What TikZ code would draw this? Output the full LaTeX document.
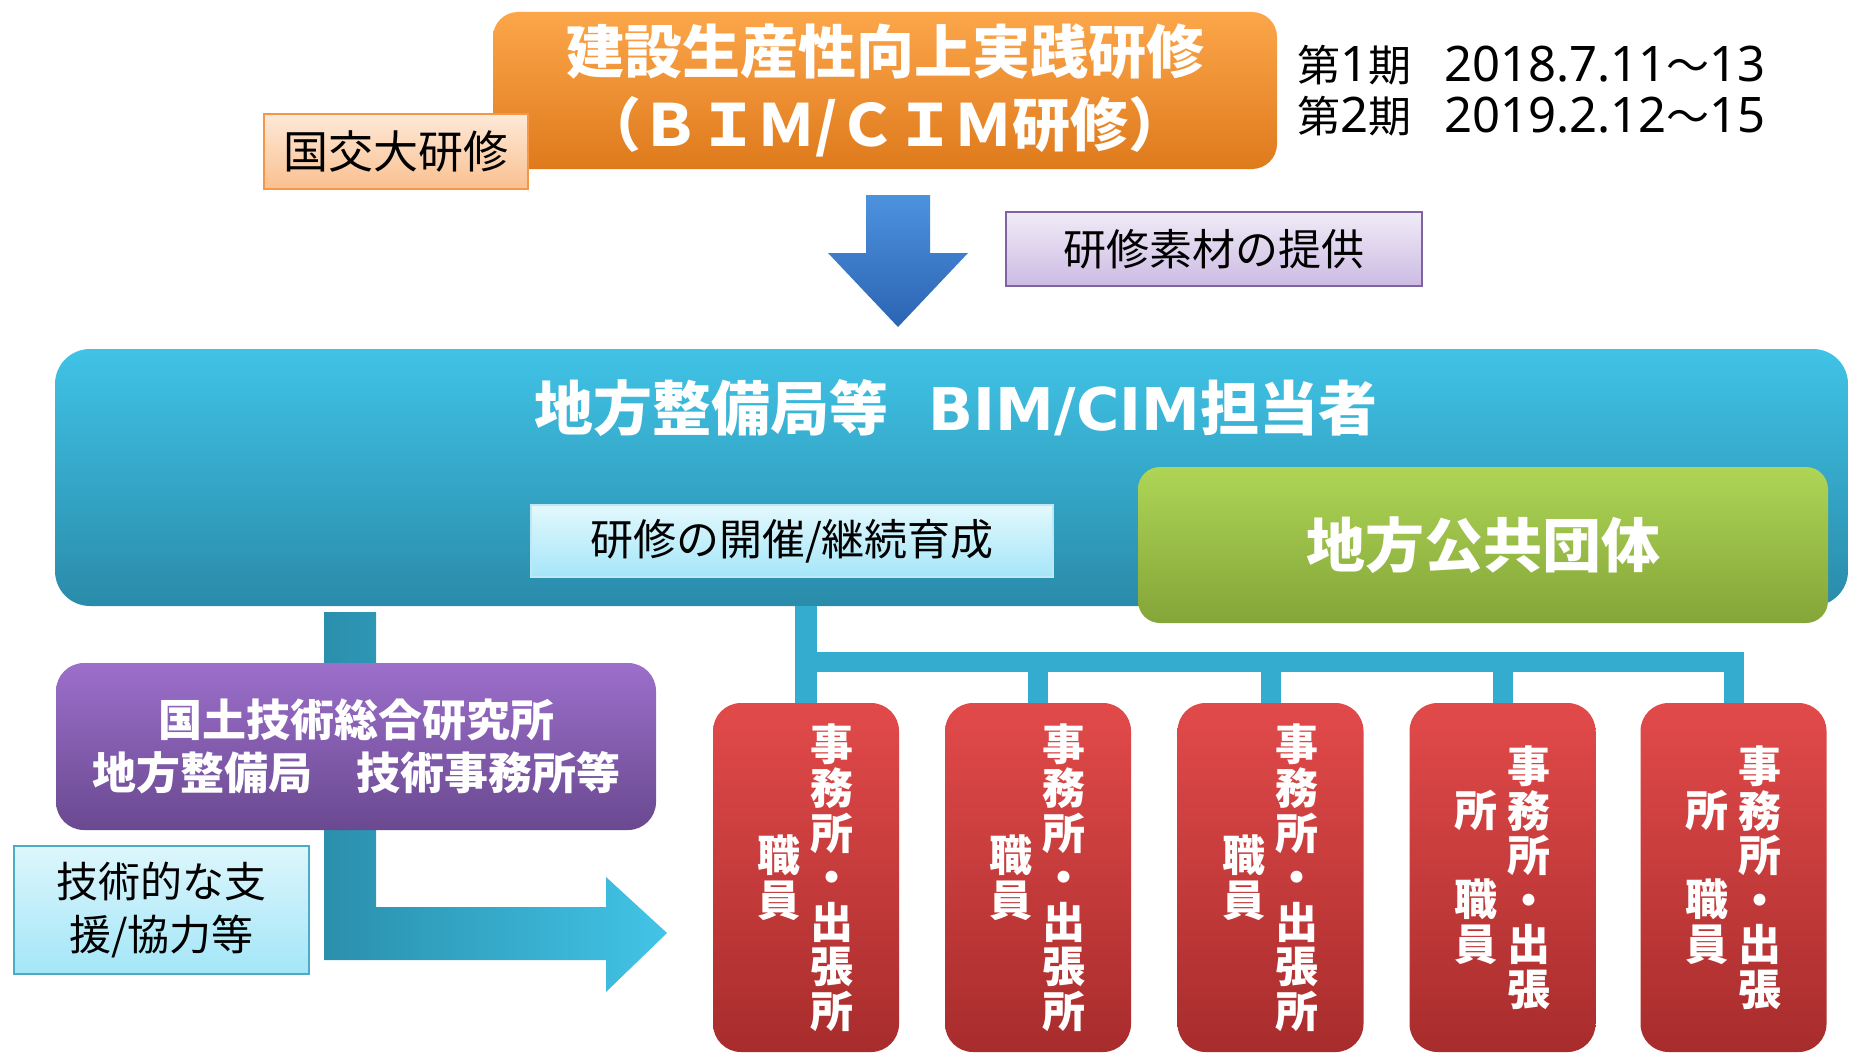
\documentclass[tikz,border=0pt]{standalone}
\usepackage{fontspec}
\setmainfont{Noto Sans}
\newfontfamily\cjk{Noto Sans CJK JP}
\newfontfamily\dvs{DejaVu Sans}
\newcommand\jtxt[1]{{\cjk\fontsize{43}{50}\selectfont #1}}
\definecolor{oraT}{HTML}{FCA64A}
\definecolor{oraB}{HTML}{DE7A1C}
\definecolor{kokT}{HTML}{FDE9D9}
\definecolor{kokB}{HTML}{FAC08F}
\definecolor{kokD}{HTML}{F79646}
\definecolor{bluT}{HTML}{4D92DE}
\definecolor{bluB}{HTML}{2B64B3}
\definecolor{sozT}{HTML}{F0EBF7}
\definecolor{sozB}{HTML}{CCBBE3}
\definecolor{sozD}{HTML}{8064A2}
\definecolor{tealT}{HTML}{40C3E6}
\definecolor{tealB}{HTML}{2A8BAA}
\definecolor{kaiT}{HTML}{E3F8FD}
\definecolor{kaiB}{HTML}{A5E6F8}
\definecolor{kaiD}{HTML}{BEE9F4}
\definecolor{grnT}{HTML}{AED556}
\definecolor{grnB}{HTML}{84A538}
\definecolor{purT}{HTML}{9C6FCB}
\definecolor{purB}{HTML}{6A4990}
\definecolor{redT}{HTML}{E24A4A}
\definecolor{redB}{HTML}{A82C2C}
\definecolor{gijT}{HTML}{DDF6FC}
\definecolor{gijB}{HTML}{A3E6F8}
\definecolor{gijD}{HTML}{4BACC6}
\definecolor{connC}{HTML}{34ACD0}
\definecolor{LarL}{HTML}{2A8FAD}
\definecolor{LarR}{HTML}{42C4E6}
\begin{document}
\begin{tikzpicture}[x=1pt,y=-1pt,
  every node/.style={inner sep=0pt, outer sep=0pt},
  plainbox/.style={rectangle, align=center},
  conn/.style={draw=connC, line cap=butt},
  redbox/.style={rectangle, rounded corners=28pt, top color=redT, bottom color=redB, minimum width=186pt, minimum height=349pt},
  vtxt/.style={align=center, text=white, font=\cjk\bfseries\fontsize{43}{44.5}\selectfont},
]
\useasboundingbox (0,0) rectangle (1849,1054);

% large teal box
\node[plainbox, rounded corners=35pt, top color=tealT, bottom color=tealB,
  minimum width=1793pt, minimum height=257pt] (big) at (951.5,477.5) {};
\node[text=white, font=\cjk\bfseries\fontsize{59}{70}\selectfont] (bigtitle) at (956,408)
  {地方整備局等\hspace{40pt}{\dvs\bfseries BIM/CIM}担当者};

% L-shaped arrow
\coordinate (Ltip) at (667,933);
\path[left color=LarL, right color=LarR]
  (324,612) -- (376,612) -- (376,907) -- (606,907) -- (606,877) -- (Ltip)
  -- (606,992) -- (606,960) -- (324,960) -- cycle;

% red boxes
\foreach \i/\cx in {1/806,2/1038,3/1270.5,4/1502.5,5/1733.5}
  \node[redbox] (red\i) at (\cx,877.5) {};
\foreach \i in {1,2,3}{
  \node[vtxt] (rr\i) at ([xshift=26pt]red\i.center) {事\\務\\所\\・\\出\\張\\所};
  \node[vtxt] (rl\i) at ([xshift=-27pt]red\i.center) {職\\員};
}
\foreach \i in {4,5}{
  \node[vtxt] (rr\i) at ([xshift=26pt]red\i.center) {事\\務\\所\\・\\出\\張};
  \node[vtxt] (rl\i) at ([xshift=-27pt]red\i.center) {所\\\phantom{所}\\職\\員};
}

% connectors
\coordinate (barY) at (0,662);
\draw[conn, line width=22pt] (big.south -| red1.north) -- (red1.north);
\draw[conn, line width=20pt] ([xshift=-11pt]red1.north |- barY) -- ([xshift=10pt]red5.north |- barY);
\foreach \i in {2,3,4,5}
  \draw[conn, line width=20pt] (red\i.north |- barY) -- (red\i.north);

% green box
\node[plainbox, rounded corners=22pt, top color=grnT, bottom color=grnB,
  minimum width=690pt, minimum height=156pt, text=white,
  font=\cjk\bfseries\fontsize{59}{70}\selectfont] (green) at (1483,545) {地方公共団体};

% training box
\node[plainbox, draw=kaiD, line width=1.5pt, top color=kaiT, bottom color=kaiB,
  minimum width=522pt, minimum height=72pt,
  font=\cjk\fontsize{43}{50}\selectfont] (kaisai) at (792,541) {研修の開催/継続育成};

% purple box
\node[plainbox, rounded corners=28pt, top color=purT, bottom color=purB,
  minimum width=600pt, minimum height=167pt, text=white,
  font=\cjk\bfseries\fontsize{44}{53}\selectfont] (purple) at (356,746.5)
  {国土技術総合研究所\\地方整備局　技術事務所等};

% support box
\node[plainbox, draw=gijD, line width=1.5pt, top color=gijT, bottom color=gijB,
  minimum width=295pt, minimum height=128pt,
  font=\cjk\fontsize{42}{53}\selectfont] (gijutsu) at (161.5,910) {技術的な支\\援/協力等};

% orange title
\node[plainbox, rounded corners=25pt, top color=oraT, bottom color=oraB,
  minimum width=784pt, minimum height=157pt, text=white,
  font=\cjk\bfseries\fontsize{58}{73}\selectfont] (orange) at (885,90.5)
  {建設生産性向上実践研修\\（ＢＩＭ/ＣＩＭ研修）};

% kokko box
\node[plainbox, draw=kokD, line width=2pt, top color=kokT, bottom color=kokB,
  minimum width=264pt, minimum height=75pt,
  font=\cjk\fontsize{45}{50}\selectfont] (kokko) at (396,151.5) {国交大研修};

% dates
\node[anchor=base west, font=\fontsize{49}{50}\selectfont] (date1) at (1297,82)
  {\jtxt{第}1\jtxt{期}\hspace{33pt}2018.7.11\jtxt{～}13};
\node[anchor=base west, font=\fontsize{49}{50}\selectfont] (date2) at (1297,132)
  {\jtxt{第}2\jtxt{期}\hspace{33pt}2019.2.12\jtxt{～}15};

% blue down arrow
\coordinate (Btip) at (898,327);
\path[top color=bluT, bottom color=bluB]
  (866,195) -- (930,195) -- (930,253) -- (968,253) -- (Btip) -- (828,253) -- (866,253) -- cycle;

% material box
\node[plainbox, draw=sozD, line width=2pt, top color=sozT, bottom color=sozB,
  minimum width=416pt, minimum height=74pt,
  font=\cjk\fontsize{43}{50}\selectfont] (sozai) at (1214,249) {研修素材の提供};
\end{tikzpicture}
\end{document}
